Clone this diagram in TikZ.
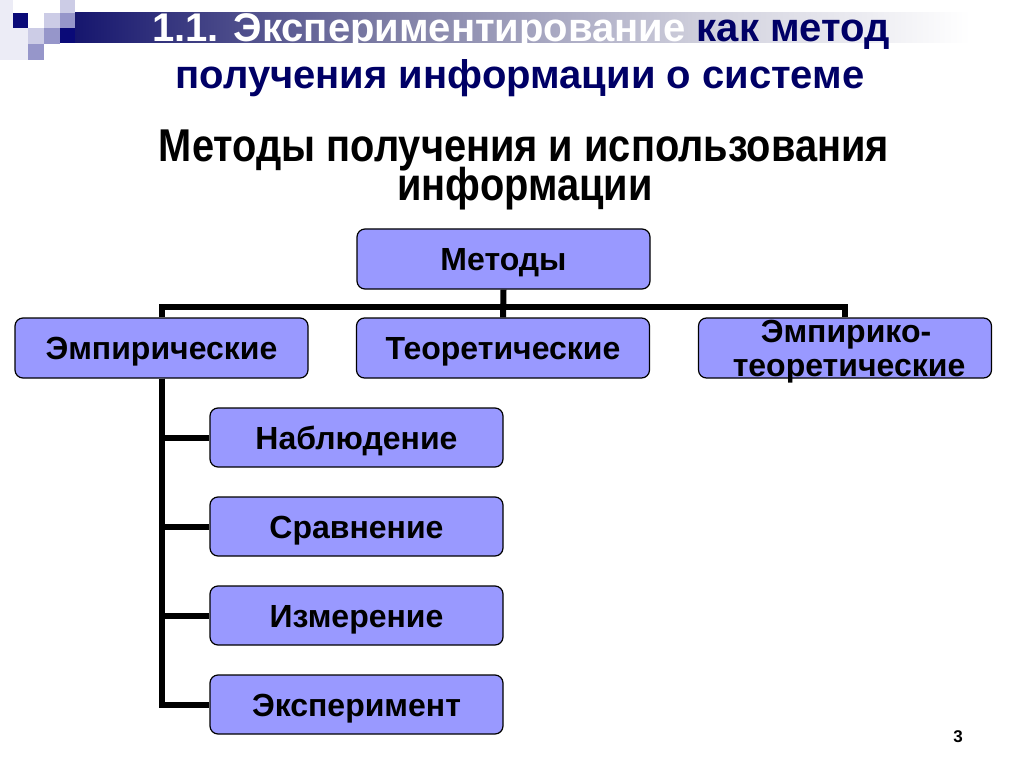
\documentclass[tikz,border=0pt]{standalone}
\usepackage{fontspec}
\setmainfont{Liberation Sans}
\newfontfamily\narrowfont[FakeStretch=0.865]{Liberation Sans}
\definecolor{navy}{HTML}{000066}
\definecolor{bandnavy}{HTML}{16166E}
\definecolor{bandmid}{HTML}{7C7CA4}
\definecolor{bandlight}{HTML}{CFCFDC}
\definecolor{boxfill}{HTML}{9999FF}
\definecolor{sqA}{HTML}{ECECF6}
\definecolor{sqB}{HTML}{CCCCE6}
\definecolor{sqC}{HTML}{9696CA}
\definecolor{sqD}{HTML}{0A0A78}
\pgfdeclarehorizontalshading{bandshade}{100bp}{color(0bp)=(bandnavy); color(25bp)=(bandnavy); color(42bp)=(bandmid); color(60bp)=(bandlight); color(75bp)=(white); color(100bp)=(white)}
\tikzset{
  box/.style={draw=black, line width=1.2pt, fill=boxfill, rounded corners=8pt,
    minimum width=293pt, minimum height=60pt, inner sep=0pt,
    font=\bfseries\fontsize{32}{35}\selectfont, text height=23pt, text depth=0pt},
  boxtext/.style={inner sep=0pt, font=\bfseries\fontsize{32}{35}\selectfont},
  conn/.style={line width=6pt, line join=miter, draw=black},
  titletext/.style={inner sep=0pt, font=\bfseries\fontsize{40}{42}\selectfont},
  subtext/.style={inner sep=0pt, font=\narrowfont\bfseries\fontsize{46}{48}\selectfont}
}
\begin{document}
\begin{tikzpicture}[x=1pt,y=-1pt]
\fill[white] (0,0) rectangle (1024,767);
\useasboundingbox (0,0) rectangle (1024,767);
% decorative squares
\fill[sqA] (0,0) rectangle (13,60);
\fill[sqA] (13,28) rectangle (28,60);
\fill[sqD] (13,13) rectangle (28,28);
\fill[sqB] (28,28) rectangle (44,44);
\fill[sqC] (28,44) rectangle (44,60);
\fill[sqB] (44,13) rectangle (60,28);
\fill[sqC] (44,28) rectangle (60,44);
\fill[sqB] (60,0) rectangle (75,13);
\fill[sqC] (60,13) rectangle (75,28);
\fill[sqD] (60,28) rectangle (75,43);
\shade[shading=bandshade] (75,13) rectangle (970,43);
% title
\node[titletext, anchor=base] (t1) at (521,42) {\textcolor{white}{1.1. Экспериментирование} \textcolor{navy}{как метод}};
\node[titletext, anchor=base, text=navy] (t2) at (520,89) {получения информации о системе};
\node[subtext, anchor=base] (s1) at (524,162) {Методы получения и использования};
\node[subtext, anchor=base] (s2) at (525,201) {информации};
% boxes
\node[box] (m) at (503.5,259) {Методы};
\node[box] (emp) at (161.5,348) {Эмпирические};
\node[box] (teo) at (503,348) {Теоретические};
\node[box] (et) at (845,348) {};
\node[boxtext, anchor=base] (et1) at (846,342) {Эмпирико-};
\node[boxtext, anchor=base] (et2) at (849,376) {теоретические};
\node[box, minimum height=59pt] (n1) at (356.5,437.5) {Наблюдение};
\node[box, minimum height=59pt] (n2) at (356.5,526.5) {Сравнение};
\node[box, minimum height=59pt] (n3) at (356.5,615.5) {Измерение};
\node[box, minimum height=59pt] (n4) at (356.5,704.5) {Эксперимент};
% connectors
\coordinate (bus) at (503.5,307);
\draw[conn] (m.south) -- (teo.north);
\draw[conn] (emp.north) |- (bus) -| (et.north);
\draw[conn] (emp.south) |- (n1.west);
\draw[conn] (emp.south) |- (n2.west);
\draw[conn] (emp.south) |- (n3.west);
\draw[conn] (emp.south) |- (n4.west);
% page number
\node[inner sep=0pt, font=\bfseries\fontsize{17}{18}\selectfont] (pn) at (958,737) {3};
\end{tikzpicture}
\end{document}
